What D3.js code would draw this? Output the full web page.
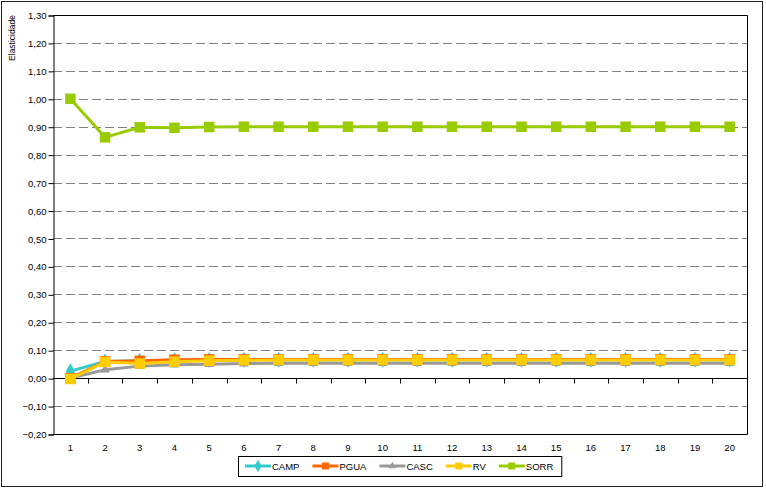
<!DOCTYPE html>
<html>
<head>
<meta charset="utf-8">
<script src="https://cdn.jsdelivr.net/npm/d3@7"></script>
<style>
  body { margin: 0; background: #fff; }
  svg { display: block; font-family: "Liberation Sans", Arial, sans-serif; }
</style>
</head>
<body>
<svg width="766" height="489"></svg>
<script>
// categories (x) and y tick labels
var categories = ["1","2","3","4","5","6","7","8","9","10","11","12","13","14","15","16","17","18","19","20"];
var yTicks = [-0.20,-0.10,0.00,0.10,0.20,0.30,0.40,0.50,0.60,0.70,0.80,0.90,1.00,1.10,1.20,1.30];

// series values
var camp = [0.025,0.060,0.062,0.064,0.065,0.066,0.066,0.066,0.066,0.066,0.066,0.066,0.066,0.066,0.066,0.066,0.066,0.066,0.066,0.066];
var pgua = [0.000,0.060,0.062,0.066,0.067,0.067,0.067,0.067,0.067,0.067,0.067,0.067,0.067,0.067,0.067,0.067,0.067,0.067,0.067,0.067];
var casc = [0.000,0.030,0.043,0.048,0.050,0.052,0.053,0.053,0.053,0.053,0.053,0.053,0.053,0.053,0.053,0.053,0.053,0.053,0.053,0.053];
var rv   = [-0.003,0.058,0.052,0.059,0.062,0.064,0.065,0.065,0.065,0.065,0.065,0.065,0.065,0.065,0.065,0.065,0.065,0.065,0.065,0.065];
var sorr = [1.000,0.862,0.898,0.896,0.899,0.900,0.900,0.900,0.900,0.900,0.900,0.900,0.900,0.900,0.900,0.900,0.900,0.900,0.900,0.900];

var series = [
  {name: "CAMP", values: camp, color: "#33cccc", marker: "diamond"},
  {name: "PGUA", values: pgua, color: "#ff6600", marker: "square"},
  {name: "CASC", values: casc, color: "#999999", marker: "triangle"},
  {name: "RV",   values: rv,   color: "#ffcc00", marker: "square"},
  {name: "SORR", values: sorr, color: "#99cc00", marker: "square"}
];

var plot = {left: 53, top: 15, right: 747, bottom: 434};

var svg = d3.select("svg");

// outer chart border
svg.append("rect")
  .attr("x", 1.5).attr("y", 1.5)
  .attr("width", 761).attr("height", 485)
  .attr("fill", "#fff").attr("stroke", "#222").attr("stroke-width", 1);

var x = d3.scaleBand().domain(categories).range([plot.left, plot.right]);
var y = d3.scaleLinear().domain([-0.2, 1.3]).range([plot.bottom, plot.top]);

// dashed grid lines
svg.append("g").selectAll("line")
  .data(yTicks.filter(function(d) { return Math.abs(d) > 1e-9 && d < 1.29; }))
  .enter().append("line")
  .attr("x1", plot.left).attr("x2", plot.right)
  .attr("y1", function(d) { return Math.round(y(d)) + 0.5; })
  .attr("y2", function(d) { return Math.round(y(d)) + 0.5; })
  .attr("stroke", "#808080").attr("stroke-dasharray", "9,4");

// plot frame (top, right, bottom)
svg.append("path")
  .attr("d", "M" + plot.left + "," + (plot.top + 0.5) + "H" + (plot.right + 0.5) +
             "V" + (plot.bottom + 0.5) + "H" + plot.left)
  .attr("fill", "none").attr("stroke", "#000");

// y axis
var yAxis = d3.axisLeft(y)
  .tickValues(yTicks)
  .tickSize(5)
  .tickFormat(function(d) { return d3.format(".2f")(d).replace(".", ","); });
var gy = svg.append("g")
  .attr("transform", "translate(" + (plot.left + 0.5) + ",0.5)")
  .call(yAxis);
gy.select(".domain").attr("stroke", "#000");
gy.selectAll(".tick line").attr("stroke", "#000");
gy.selectAll(".tick text")
  .attr("x", -7)
  .attr("fill", "#000").attr("font-size", 9.5)
  .attr("font-family", "Liberation Sans, Arial, sans-serif");

// x axis along zero line, ticks between categories
var x0 = Math.round(y(0)) + 0.5;
svg.append("line")
  .attr("x1", plot.left).attr("x2", plot.right + 0.5)
  .attr("y1", x0).attr("y2", x0)
  .attr("stroke", "#000");
svg.append("g").selectAll("line")
  .data(categories.slice(1))
  .enter().append("line")
  .attr("x1", function(d) { return Math.round(x(d)) + 0.5; })
  .attr("x2", function(d) { return Math.round(x(d)) + 0.5; })
  .attr("y1", x0).attr("y2", x0 + 5)
  .attr("stroke", "#000");

// category labels below the plot
svg.append("g").selectAll("text")
  .data(categories)
  .enter().append("text")
  .attr("x", function(d) { return x(d) + x.bandwidth() / 2; })
  .attr("y", 451)
  .attr("text-anchor", "middle")
  .attr("font-size", 9.5)
  .text(function(d) { return d; });

// y axis title
svg.append("text")
  .attr("transform", "translate(15,38) rotate(-90)")
  .attr("text-anchor", "middle")
  .attr("font-size", 8.5)
  .text("Elasticidade");

function markerPath(type, s) {
  if (type === "diamond") return d3.symbol(d3.symbolDiamond, s * s * 0.9)();
  if (type === "triangle") return d3.symbol(d3.symbolTriangle, s * s * 0.5)();
  return d3.symbol(d3.symbolSquare, s * s)();
}

var line = d3.line()
  .x(function(d, i) { return x(categories[i]) + x.bandwidth() / 2; })
  .y(function(d) { return y(d); });

series.forEach(function(s) {
  var g = svg.append("g");
  g.append("path")
    .attr("d", line(s.values))
    .attr("fill", "none")
    .attr("stroke", s.color)
    .attr("stroke-width", 3);
  g.selectAll("path.m")
    .data(s.values)
    .enter().append("path")
    .attr("class", "m")
    .attr("d", markerPath(s.marker, s.marker === "square" ? 10.5 : 9))
    .attr("transform", function(d, i) {
      return "translate(" + (x(categories[i]) + x.bandwidth() / 2) + "," + y(d) + ")";
    })
    .attr("fill", s.color);
});

// legend
var legend = svg.append("g");
var legBox = legend.append("rect")
  .attr("fill", "#fff").attr("stroke", "#000");
var lx = 245;
series.forEach(function(s) {
  var item = legend.append("g");
  item.append("line")
    .attr("x1", lx).attr("x2", lx + 26)
    .attr("y1", 466).attr("y2", 466)
    .attr("stroke", s.color).attr("stroke-width", 3);
  item.append("path")
    .attr("d", markerPath(s.marker, 7))
    .attr("transform", "translate(" + (lx + 13) + ",466)")
    .attr("fill", s.color);
  var t = item.append("text")
    .attr("x", lx + 27).attr("y", 469.5)
    .attr("font-size", 9.5)
    .text(s.name);
  lx += 27 + t.node().getComputedTextLength() + 13;
});
legBox.attr("x", 238.5).attr("y", 456.5)
  .attr("width", lx - 13 + 8 - 238).attr("height", 20);
</script>
</body>
</html>
